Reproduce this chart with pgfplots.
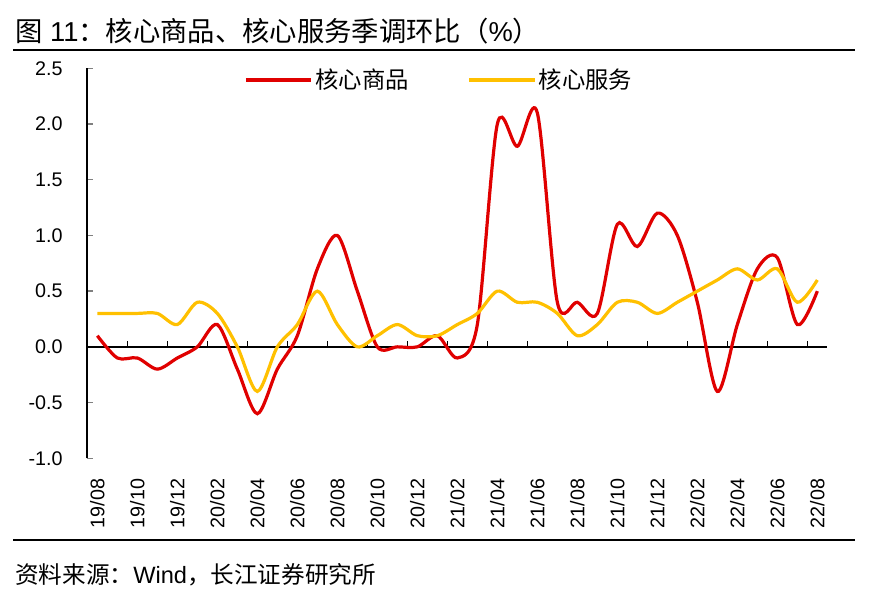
\documentclass[border=0pt]{standalone}
\usepackage{fontspec}
\setmainfont{Liberation Sans}
\newfontfamily\cjk{Noto Sans CJK SC}
\usepackage{pgfplots}
\usepackage{pgfplotstable}
\pgfplotsset{compat=1.18}
\definecolor{cred}{HTML}{E00000}
\definecolor{cgold}{HTML}{FFC000}

% month index (0 = 2019/08), core goods, core services (mom, sa, %)
\pgfplotstableread{
i  goods services
0   0.1  0.3
1  -0.1  0.3
2  -0.1  0.3
3  -0.2  0.3
4  -0.1  0.2
5   0.0  0.4
6   0.2  0.3
7  -0.2  0.0
8  -0.6 -0.4
9  -0.2  0.0
10  0.1  0.2
11  0.7  0.5
12  1.0  0.2
13  0.5  0.0
14  0.0  0.1
15  0.0  0.2
16  0.0  0.1
17  0.1  0.1
18 -0.1  0.2
19  0.2  0.3
20  2.0  0.5
21  1.8  0.4
22  2.1  0.4
23  0.4  0.3
24  0.4  0.1
25  0.3  0.2
26  1.1  0.4
27  0.9  0.4
28  1.2  0.3
29  1.0  0.4
30  0.4  0.5
31 -0.4  0.6
32  0.2  0.7
33  0.7  0.6
34  0.8  0.7
35  0.2  0.4
36  0.5  0.6
}\cpidata

\begin{document}
\begin{tikzpicture}
\path[use as bounding box] (0,0) rectangle (651.75pt,-452.25pt);

\node[anchor=west,inner sep=0pt,font=\fontsize{20.5}{22}\selectfont]
  at (11.25pt,-23.5pt) {{\cjk 图} 11{\cjk ：核心商品、核心服务季调环比（}\%{\cjk ）}};
\draw[line width=2.2pt] (9.75pt,-37.5pt) -- (641.5pt,-37.5pt);

\begin{axis}[
  at={(65.5pt,-343.7pt)}, anchor=south west,
  scale only axis, width=555pt, height=292.5pt,
  xmin=-0.5, xmax=36.5, ymin=-1, ymax=2.5,
  axis y line*=left, axis x line*=bottom,
  x axis line style={draw=none},
  y axis line style={line width=1.3pt},
  ytick={-1,-0.5,...,2.5},
  ytick style={line width=1.1pt},
  tick align=inside, major tick length=4.5pt,
  yticklabel style={xshift=-15pt},
  /pgf/number format/.cd, fixed, fixed zerofill, precision=1, assume math mode=true,
  /pgfplots/.cd,
  xtick={0,2,...,36},
  xticklabels={19/08,19/10,19/12,20/02,20/04,20/06,20/08,20/10,20/12,21/02,21/04,21/06,21/08,21/10,21/12,22/02,22/04,22/06,22/08},
  xtick style={draw=none},
  xticklabel style={rotate=90,anchor=east,xshift=-12pt},
  tick label style={font=\fontsize{14.8}{16}\selectfont},
  legend style={at={(0.476,0.97)},anchor=center,draw=none,fill=none,
    font=\fontsize{17.5}{19}\selectfont, legend columns=2,
    /tikz/every even column/.append style={column sep=42pt}},
  legend image code/.code={\draw[#1] (0pt,0pt) -- (49pt,0pt);},
  clip=false,
]
\draw[line width=1.3pt] (axis cs:-0.5,0) -- (axis cs:36.5,0);
\pgfplotsinvokeforeach{1.5,3.5,...,35.5}{
  \draw[line width=1.1pt] (axis cs:#1,0) -- ([yshift=4.5pt]axis cs:#1,0);
}
\addplot[cred, line width=2.4pt, smooth, tension=0.5] table[x=i,y=goods] {\cpidata};
\addlegendentry{\cjk 核心商品}
\addplot[cgold, line width=2.4pt, smooth, tension=0.5] table[x=i,y=services] {\cpidata};
\addlegendentry{\cjk 核心服务}
\end{axis}

\draw[line width=1.5pt] (9.75pt,-405pt) -- (641.5pt,-405pt);
\node[anchor=west,inner sep=0pt,font=\fontsize{17.7}{19}\selectfont]
  at (11.25pt,-431.25pt) {{\cjk 资料来源：}Wind{\cjk ，长江证券研究所}};
\end{tikzpicture}
\end{document}
